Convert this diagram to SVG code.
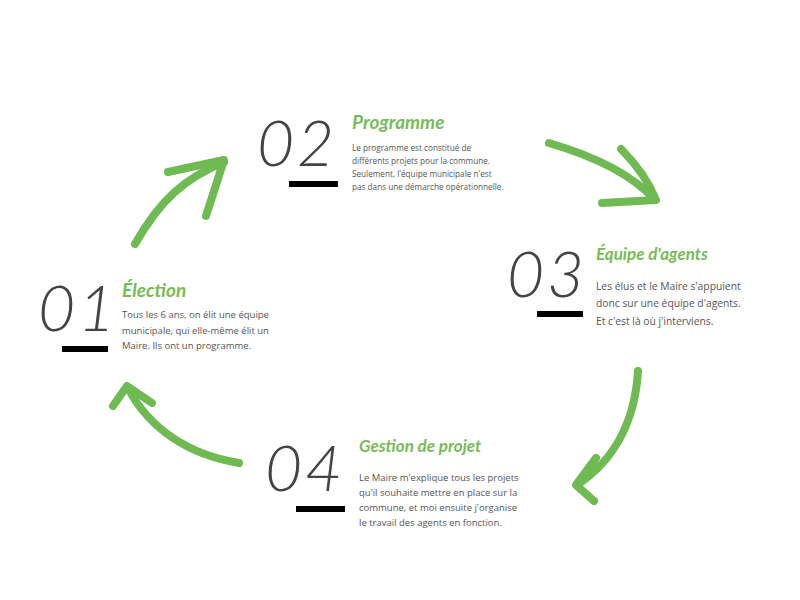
<svg xmlns="http://www.w3.org/2000/svg" width="800" height="600" viewBox="0 0 800 600">
<style>
.num{font-family:Lato,"Open Sans",sans-serif;font-style:italic;font-weight:300;font-size:64px;letter-spacing:3px;fill:#444}
.t{font-family:Lato,"Open Sans",sans-serif;font-style:italic;font-weight:700;fill:#77bb58}
.b{font-family:"Open Sans",Lato,sans-serif;fill:#555}
.ar{fill:none;stroke:#6fba52;stroke-width:8;stroke-linecap:round;stroke-linejoin:round}
</style>
<rect width="800" height="600" fill="#fff"/>
<g id="connectors">
<path class="ar" d="M135,244 C160,200 185,178 224,162"/>
<path class="ar" d="M168,172 L224,160 L206,216"/>
<path class="ar" d="M549,143 C590,155 630,172 655,200"/>
<path class="ar" d="M621,149 C640,168 650,185 656,200 L602,203"/>
<path class="ar" d="M638,371 C635,420 615,460 577,485"/>
<path class="ar" d="M596,458 L576,485 L594,501"/>
<path class="ar" d="M239,463 C190,455 150,430 128,388"/>
<path class="ar" d="M113,406 L127,386 L152,403"/>
</g>
<g id="n1">
<text class="num" x="38" y="331">01</text>
<rect x="62" y="346" width="46" height="6" fill="#000"/>
<text class="t" x="122" y="297" font-size="19">Élection</text>
<text class="b" font-size="9.5" x="122" y="318">Tous les 6 ans, on élit une équipe</text>
<text class="b" font-size="9.5" x="122" y="334">municipale, qui elle-même élit un</text>
<text class="b" font-size="9.5" x="122" y="349">Maire. Ils ont un programme.</text>
</g>
<g id="n2">
<text class="num" x="257" y="166">02</text>
<rect x="289" y="181" width="49" height="6" fill="#000"/>
<text class="t" x="352" y="129" font-size="19">Programme</text>
<text class="b" font-size="8.2" x="352" y="151">Le programme est constitué de</text>
<text class="b" font-size="8.2" x="352" y="164">différents projets pour la commune.</text>
<text class="b" font-size="8.2" x="352" y="177">Seulement, l'équipe municipale n'est</text>
<text class="b" font-size="8.2" x="352" y="190">pas dans une démarche opérationnelle.</text>
</g>
<g id="n3">
<text class="num" x="507" y="297">03</text>
<rect x="537" y="311" width="46" height="6" fill="#000"/>
<text class="t" x="596" y="260" font-size="17">Équipe d'agents</text>
<text class="b" font-size="10.3" x="596" y="290">Les élus et le Maire s'appuient</text>
<text class="b" font-size="10.3" x="596" y="307">donc sur une équipe d'agents.</text>
<text class="b" font-size="10.3" x="596" y="325">Et c'est là où j'interviens.</text>
</g>
<g id="n4">
<text class="num" x="265" y="491">04</text>
<rect x="296" y="506" width="49" height="6" fill="#000"/>
<text class="t" x="359" y="452" font-size="17">Gestion de projet</text>
<text class="b" font-size="9.5" x="359" y="481">Le Maire m'explique tous les projets</text>
<text class="b" font-size="9.5" x="359" y="496">qu'il souhaite mettre en place sur la</text>
<text class="b" font-size="9.5" x="359" y="511">commune, et moi ensuite j'organise</text>
<text class="b" font-size="9.5" x="359" y="526">le travail des agents en fonction.</text>
</g>
</svg>
